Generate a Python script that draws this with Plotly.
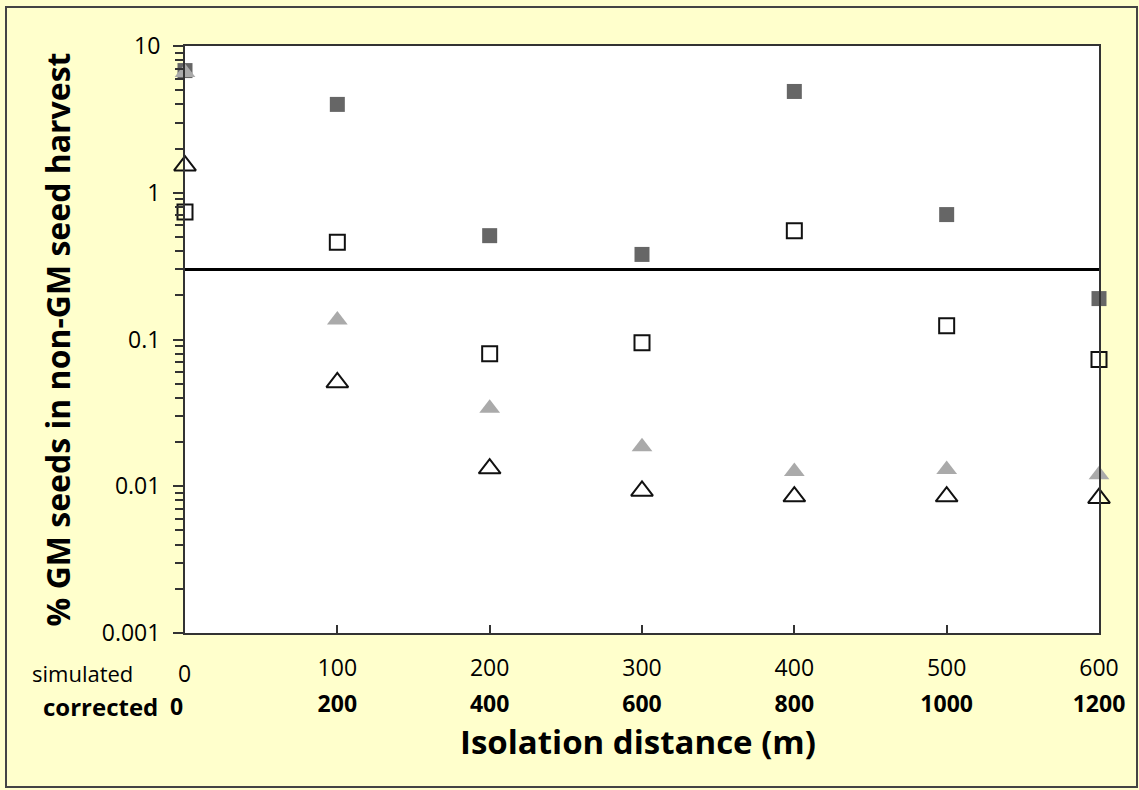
import plotly.graph_objects as go

distance_sim = [0, 100, 200, 300, 400, 500, 600]
distance_corr = [0, 200, 400, 600, 800, 1000, 1200]

filled_squares = [6.8, 4.0, 0.51, 0.38, 4.9, 0.71, 0.19]
open_squares = [0.74, 0.46, 0.08, 0.095, 0.55, 0.124, 0.073]
gray_triangles = [6.6, 0.136, 0.034, 0.0186, 0.0126, 0.013, 0.012]
open_triangles = [1.53, 0.051, 0.0132, 0.0093, 0.0085, 0.0085, 0.0083]

threshold = 0.3

y_tickvals = [0.001, 0.01, 0.1, 1, 10]
y_ticktext = ["0.001", "0.01", "0.1", "1", "10"]
y_minor = [m * d for d in [0.001, 0.01, 0.1, 1] for m in range(2, 10)]

FONT = "Open Sans"
W, H = 1139, 790
L, R, T, B = 185, 40, 46, 157
PW, PH = W - L - R, H - T - B


def px(xp):
    return (xp - L) / PW


def py(yp):
    return (H - B - yp) / PH


fig = go.Figure()
fig.add_trace(go.Scatter(x=distance_sim, y=filled_squares, mode="markers",
                         marker=dict(symbol="square", size=15, color="#666666"),
                         cliponaxis=False, showlegend=False))
fig.add_trace(go.Scatter(x=distance_sim, y=open_squares, mode="markers",
                         marker=dict(symbol="square-open", size=15, color="#111111",
                                     line=dict(width=2, color="#111111")),
                         cliponaxis=False, showlegend=False))
fig.add_trace(go.Scatter(x=distance_sim, y=gray_triangles, mode="markers",
                         marker=dict(symbol="triangle-up", size=18, color="#aaaaaa"),
                         cliponaxis=False, showlegend=False))
fig.add_trace(go.Scatter(x=distance_sim, y=open_triangles, mode="markers",
                         marker=dict(symbol="triangle-up-open", size=19, color="#111111",
                                     line=dict(width=2, color="#111111")),
                         cliponaxis=False, showlegend=False))
# invisible traces that bind the helper axes
fig.add_trace(go.Scatter(x=distance_sim, y=open_triangles, mode="markers",
                         marker=dict(opacity=0), xaxis="x2", showlegend=False,
                         hoverinfo="skip"))
fig.add_trace(go.Scatter(x=distance_sim, y=open_triangles, mode="markers",
                         marker=dict(opacity=0), xaxis="x", yaxis="y2",
                         showlegend=False, hoverinfo="skip"))

fig.add_shape(type="line", xref="x domain", yref="y", x0=0, x1=1,
              y0=threshold, y1=threshold, line=dict(color="black", width=3))

# outer frame
fig.add_shape(type="rect", xref="paper", yref="paper",
              x0=px(6), x1=px(1137), y0=py(787), y1=py(7),
              line=dict(color="#444444", width=2), layer="below")

fig.update_layout(
    width=W, height=H,
    margin=dict(l=L, r=R, t=T, b=B),
    paper_bgcolor="#FFFFCC",
    plot_bgcolor="white",
    font=dict(family=FONT, size=22, color="black"),
    xaxis=dict(range=[0, 600], tickvals=distance_sim[1:],
               ticktext=[str(v) for v in distance_sim[1:]],
               ticks="inside", ticklen=8, tickwidth=2, tickcolor="#333",
               showline=True, linecolor="#333", linewidth=2, mirror=True,
               showgrid=False, zeroline=False, ticklabelstandoff=13,
               tickfont=dict(size=23, family=FONT)),
    xaxis2=dict(range=[0, 600], overlaying="x", anchor="y", side="bottom",
                tickvals=distance_sim[1:],
                ticktext=["<b>%d</b>" % v for v in distance_corr[1:]],
                ticks="", showline=False, showgrid=False, zeroline=False,
                ticklabelstandoff=55, tickfont=dict(size=23, family=FONT)),
    yaxis=dict(type="log", range=[-3, 1], tickmode="array",
               tickvals=y_tickvals, ticktext=y_ticktext,
               ticks="outside", ticklen=10, tickwidth=2, tickcolor="#333",
               showline=True, linecolor="#333", linewidth=2, mirror=True,
               showgrid=False, zeroline=False, ticklabelstandoff=8,
               tickfont=dict(size=23, family=FONT),
               title=dict(text="<b>% GM seeds in non-GM seed harvest</b>",
                          font=dict(size=32, family=FONT), standoff=22)),
    yaxis2=dict(type="log", range=[-3, 1], overlaying="y", anchor="x", side="left",
                tickmode="array", tickvals=y_minor,
                ticktext=["" for _ in y_minor], showticklabels=True,
                ticks="outside", ticklen=9, tickwidth=2, tickcolor="#333",
                showline=False, showgrid=False, zeroline=False),
)

fig.add_annotation(text="simulated", xref="paper", yref="paper",
                   x=px(135), y=py(673), xanchor="right", yanchor="middle",
                   showarrow=False, font=dict(size=22, family=FONT))
fig.add_annotation(text="0", xref="paper", yref="paper",
                   x=px(184), y=py(673), xanchor="center", yanchor="middle",
                   showarrow=False, font=dict(size=23, family=FONT))
fig.add_annotation(text="<b>corrected</b>", xref="paper", yref="paper",
                   x=px(160), y=py(706), xanchor="right", yanchor="middle",
                   showarrow=False, font=dict(size=24, family=FONT))
fig.add_annotation(text="<b>0</b>", xref="paper", yref="paper",
                   x=px(176), y=py(706), xanchor="center", yanchor="middle",
                   showarrow=False, font=dict(size=23, family=FONT))
fig.add_annotation(text="<b>Isolation distance (m)</b>", xref="paper", yref="paper",
                   x=px(638), y=py(741), xanchor="center", yanchor="middle",
                   showarrow=False, font=dict(size=33, family=FONT))

fig.write_html("out.html", config={"displayModeBar": False},
               post_script="document.body.style.margin='0px';")
